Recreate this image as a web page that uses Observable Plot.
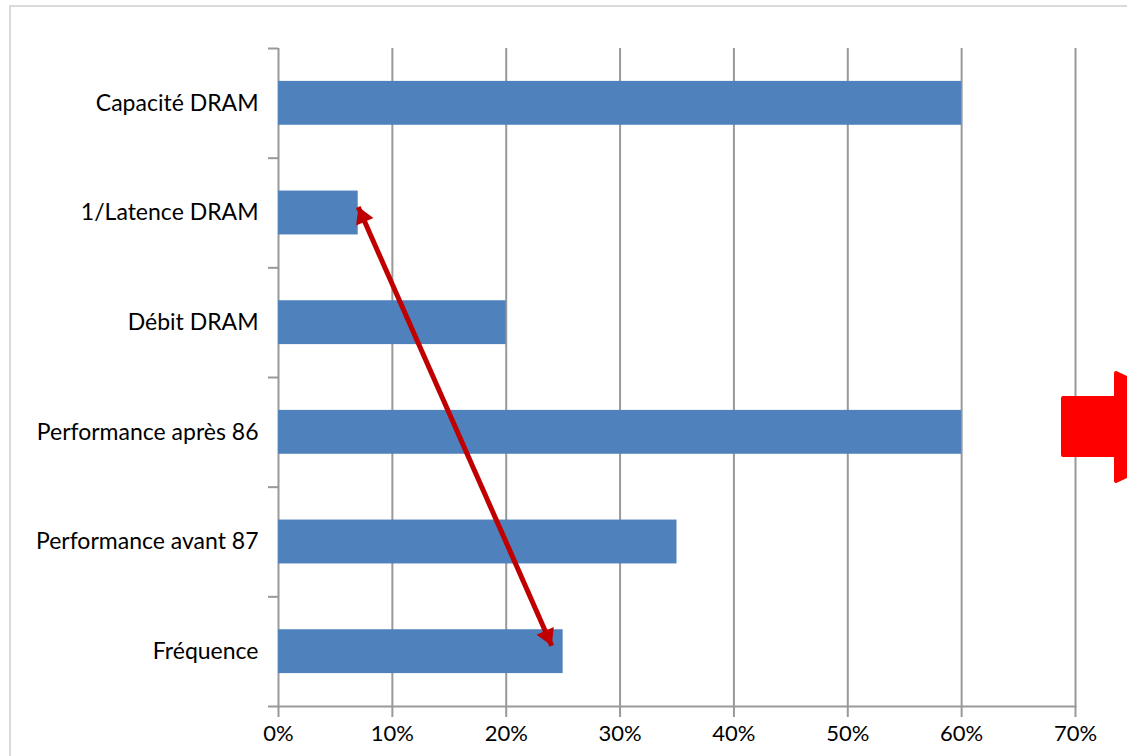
<!DOCTYPE html>
<html><head><meta charset="utf-8">
<script src="https://cdn.jsdelivr.net/npm/d3@7"></script>
<script src="https://cdn.jsdelivr.net/npm/@observablehq/plot@0.6"></script>
<style>
body{margin:0;background:#fff;overflow:hidden}
#wrap{position:relative;width:1127px;height:756px;overflow:hidden}
#frame{position:absolute;left:9px;top:5px;width:1300px;height:900px;border:2px solid #d9d9d9;box-sizing:border-box}
#chart{position:absolute;left:0;top:0}
#deco{position:absolute;left:0;top:0}
</style></head>
<body>
<div id="wrap"><div id="frame"></div><div id="chart"></div>
<svg id="deco" width="1127" height="756"><polygon points="1063,398 1116,398 1116,373 1230,427 1116,481 1116,455 1063,455" fill="#ff0000" stroke="#ff0000" stroke-width="4" stroke-linejoin="round"/></svg>
</div>
<script>
const categories = ["Capacité DRAM","1/Latence DRAM","Débit DRAM","Performance après 86","Performance avant 87","Fréquence"];
const values = [0.60, 0.07, 0.20, 0.60, 0.35, 0.25];
const xTicks = [0,0.1,0.2,0.3,0.4,0.5,0.6,0.7];
const arrowStart = {category:"1/Latence DRAM", value:0.07};
const arrowEnd = {category:"Fréquence", value:0.24};

const W = 1127, H = 756, mL = 278, mR = 52, mT = 48, mB = 50;
const step = (H - mT - mB) / categories.length;
const tickLen = 0.7 * 10 / (W - mL - mR);
const bars = categories.map((c, i) => ({c, v: values[i]}));
const grid = "#999";
const red = "#C00000";
const ang = 23.8;

const chart = Plot.plot({
  width: W, height: H,
  marginLeft: mL, marginRight: mR, marginTop: mT, marginBottom: mB,
  style: {fontFamily: "Lato, Carlito, sans-serif", fontSize: "22px", color: "#000", background: "transparent", overflow: "visible"},
  x: {domain: [0, 0.7]},
  y: {domain: categories, paddingInner: 0.6, paddingOuter: 0.3, round: false},
  marks: [
    Plot.ruleX(xTicks, {stroke: grid, strokeWidth: 2, strokeOpacity: 1}),
    Plot.frame({anchor: "bottom", stroke: grid, strokeWidth: 2}),
    Plot.ruleY(categories, {y: d => d, x1: -tickLen, x2: 0, dy: -step/2, stroke: grid, strokeWidth: 2}),
    Plot.ruleY(categories.slice(-1), {y: d => d, x1: -tickLen, x2: 0, dy: step/2, stroke: grid, strokeWidth: 2}),
    Plot.barX(bars, {y: "c", x: "v", fill: "#4F81BD"}),
    Plot.axisX(xTicks, {tickFormat: d3.format(".0%"), tickSize: 11, tickPadding: 8, stroke: grid, strokeWidth: 2, fill: "#000", fontSize: 22}),
    Plot.axisY({tickSize: 0, tickPadding: 20, fill: "#000", fontSize: 23}),
    Plot.link([{}], {x1: () => arrowStart.value, y1: () => arrowStart.category, x2: () => arrowEnd.value, y2: () => arrowEnd.category, dy: -6, stroke: red, strokeWidth: 5}),
    Plot.dot([arrowStart], {x: "value", y: "category", symbol: "triangle", r: 7, fill: red, rotate: -ang, dx: 4.4, dy: -6 + 9.8}),
    Plot.dot([arrowEnd], {x: "value", y: "category", symbol: "triangle", r: 7, fill: red, rotate: 180 - ang, dx: -4.4, dy: -6 - 9.8})
  ]
});
document.getElementById("chart").appendChild(chart);
</script>
</body></html>
